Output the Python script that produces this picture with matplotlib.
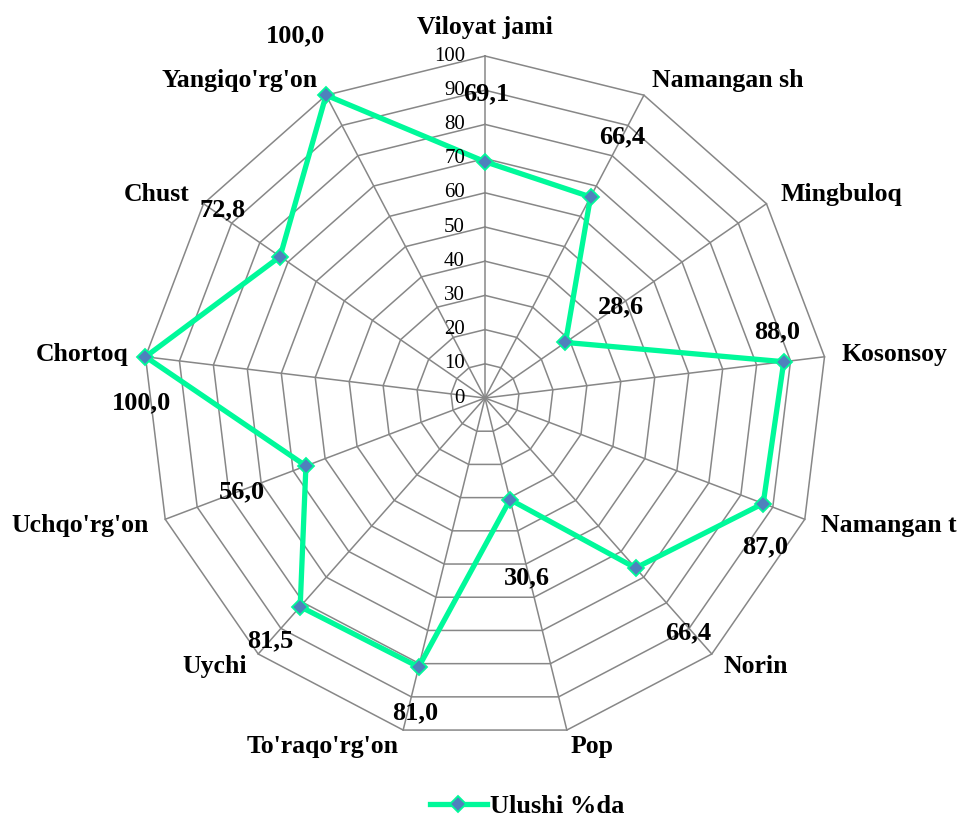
import numpy as np
import matplotlib
matplotlib.use("Agg")
import matplotlib.pyplot as plt
from matplotlib.lines import Line2D

categories = ["Viloyat jami", "Namangan sh", "Mingbuloq", "Kosonsoy", "Namangan t",
              "Norin", "Pop", "To'raqo'rg'on", "Uychi", "Uchqo'rg'on",
              "Chortoq", "Chust", "Yangiqo'rg'on"]
values = [69.1, 66.4, 28.6, 88.0, 87.0, 66.4, 30.6, 81.0, 81.5, 56.0, 100.0, 72.8, 100.0]
value_labels = ["69,1", "66,4", "28,6", "88,0", "87,0", "66,4", "30,6", "81,0", "81,5",
                "56,0", "100,0", "72,8", "100,0"]
radial_ticks = [0, 10, 20, 30, 40, 50, 60, 70, 80, 90, 100]
series_name = "Ulushi %da"

# label offsets (pixels) relative to the marker, styling only
label_offsets = [(1, 68), (32, 60), (55, 36), (-7, 30), (2, -43), (53, -65), (17, -78),
                 (-4, -46), (-30, -34), (-64, -26), (-4, -46), (-58, 47), (-31, 59)]

plt.rcParams['font.family'] = ['Liberation Serif', 'DejaVu Serif']

W, H = 963, 818
fig = plt.figure(figsize=(W / 100, H / 100), dpi=100)
cx, cy, R = 485, 398, 342
ax = fig.add_axes([(cx - R) / W, (H - cy - R) / H, 2 * R / W, 2 * R / H], projection='polar')
ax.set_theta_offset(np.pi / 2)
ax.set_theta_direction(-1)
ax.set_ylim(0, 100)
ax.grid(False)
ax.spines['polar'].set_visible(False)
ax.set_xticks([])
ax.set_yticks([])
ax.patch.set_visible(False)

n = len(categories)
theta = np.arange(n) * 2 * np.pi / n
theta_closed = np.append(theta, theta[0])

grid_color = '#878787'
for lvl in radial_ticks[1:]:
    ax.plot(theta_closed, [lvl] * (n + 1), color=grid_color, lw=1.1, clip_on=False, zorder=1)
for t in theta:
    ax.plot([t, t], [0, 100], color=grid_color, lw=1.1, clip_on=False, zorder=1)

line_color = '#00F99A'
vals_closed = np.append(values, values[0])
ax.plot(theta_closed, vals_closed, color=line_color, lw=3.8, clip_on=False, zorder=3)
ax.plot(theta, values, ls='none', marker='D', ms=8.5, mfc='#4F81BD', mec=line_color,
        mew=1.3, clip_on=False, zorder=4)

# radial tick labels
for v in radial_ticks:
    ax.annotate(str(v), xy=(0, v), xytext=(-20, 0), textcoords='offset pixels',
                ha='right', va='center', fontsize=15, annotation_clip=False)

# category labels
for t, c in zip(theta, categories):
    s = np.sin(t)
    if abs(s) < 0.05:
        ha, va = 'center', 'bottom'
    elif s > 0:
        ha, va = 'left', 'center'
    else:
        ha, va = 'right', 'center'
    ax.text(t, 105, c, ha=ha, va=va, fontsize=18.5, fontweight='bold', clip_on=False)

# value labels
for t, v, lab, off in zip(theta, values, value_labels, label_offsets):
    ax.annotate(lab, xy=(t, v), xytext=off, textcoords='offset pixels',
                ha='center', va='center', fontsize=19, fontweight='bold',
                annotation_clip=False, zorder=5)

handle = Line2D([], [], color=line_color, lw=3.8, marker='D', ms=8.5,
                mfc='#4F81BD', mec=line_color, mew=1.3)
fig.legend([handle], [series_name], loc='center', bbox_to_anchor=(527 / W, 1 - 806 / H),
           frameon=False, handlelength=2.15, handletextpad=0.12, borderpad=0,
           prop={'family': 'Liberation Serif', 'weight': 'bold', 'size': 19})

fig.savefig('out.png', dpi=100)
